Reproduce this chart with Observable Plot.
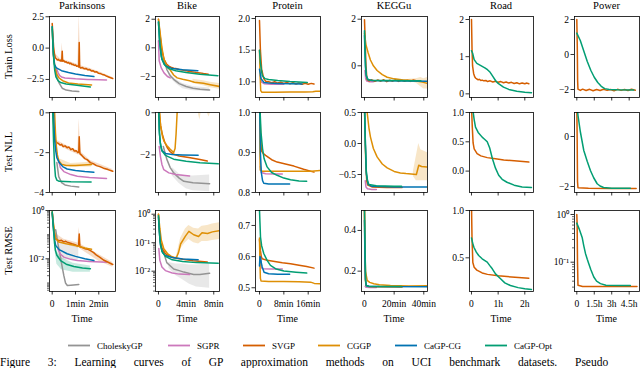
<!DOCTYPE html>
<html><head><meta charset="utf-8">
<script src="https://cdn.jsdelivr.net/npm/d3@7"></script>
<script src="https://cdn.jsdelivr.net/npm/@observablehq/plot@0.6"></script>
<style>
html,body{margin:0;padding:0;background:#fff;}
#root{position:relative;width:640px;height:368px;overflow:hidden;font-family:"Liberation Serif",serif;}
#root svg{position:absolute;overflow:visible;}
</style></head><body><div id="root"></div>
<script>
// ---------- categories / labels ----------
const methods = ["CholeskyGP","SGPR","SVGP","CGGP","CaGP-CG","CaGP-Opt"];
const methodColors = ["#949494","#cc78bc","#d55e00","#de8f05","#0173b2","#029e73"];
const datasets = ["Parkinsons","Bike","Protein","KEGGu","Road","Power"];
const metrics = ["Train Loss","Test NLL","Test RMSE"];
const timeLabel = "Time";
const caption = "Figure 3:  Learning curves of GP approximation methods on UCI benchmark datasets.  Pseudo";

// x axis (time) ticks per dataset
const xTicks = [[0,1,2],[0,4,8],[0,8,16],[0,20,40],[0,1,2],[0,1.5,3,4.5]];
const xTickLabels = [["0","1min","2min"],["0","4min","8min"],["0","8min","16min"],["0","20min","40min"],["0","1h","2h"],["0","1.5h","3h","4.5h"]];
const xDomains = [[-0.116,2.717],[-0.43,8.83],[-1.31,20.04],[-2.02,42.5],[-0.075,2.326],[-0.198,5.386]];

// y axis ticks per metric row
const yTicksTrain = [[2.5,0,-2.5],[2,0,-2],[2.0,1.5,1.0],[2,0],[2,1,0],[2,0,-2]];
const yLabelsTrain = [["2.5","0.0","−2.5"],["2","0","−2"],["2.0","1.5","1.0"],["2","0"],["2","1","0"],["2","0","−2"]];
const yDomainsTrain = [[-3.94,2.52],[-3.47,2.19],[0.752,2.032],[-1.36,2.116],[-0.098,2.081],[-2.457,2.171]];

const yTicksNLL = [[0,-2,-4],[0,-2],[1.0,0.9,0.8],[0.5,0,-0.5],[1.0,0.5,0],[0,-2]];
const yLabelsNLL = [["0","−2","−4"],["0","−2"],["1.0","0.9","0.8"],["0.5","0.0","−0.5"],["1.0","0.5","0.0"],["0","−2"]];
const yDomainsNLL = [[-4,0.015],[-3.78,0.01],[0.8,1.0],[-0.79,0.5],[-0.365,1.0],[-2.24,0.96]];

const yTicksRMSE = [[1,0.01],[1,0.1,0.01],[0.7,0.6,0.5],[0.4,0.2],[1.0,0.5],[1,0.1]];
const yLabelsRMSE = [["10⁰","10⁻²"],["10⁰","10⁻¹","10⁻²"],["0.7","0.6","0.5"],["0.4","0.2"],["1.0","0.5"],["10⁰","10⁻¹"]];
const yDomainsRMSE = [[0.000443,1],[0.00194,1.349],[0.488,0.748],[0.1,0.498],[0.144,1.0],[0.0243,1.213]];
const yTypesRMSE = ["log","log","linear","linear","linear","log"];

// ---------- series: [time, value] ----------
const train_Parkinsons = {
  "CholeskyGP": [[0.15,-1.5],[0.2,-2.3],[0.3,-2.8],[0.43,-3.2],[0.6,-3.35],[0.85,-3.42],[1.14,-3.47]],
  "SGPR": [[0.2,-1.7],[0.25,-1.95],[0.32,-2.2],[0.4,-2.3],[0.55,-2.38],[0.7,-2.4],[1.0,-2.45],[1.5,-2.5],[2.0,-2.53],[2.33,-2.55]],
  "SVGP": [[0,1.97],[0.03,1.0],[0.06,0.1],[0.1,-0.5],[0.14,-0.78],[0.18,-0.85],[0.22,-0.95],[0.26,-0.9],[0.3,-1.0],[0.34,-0.95],[0.38,-1.05],[0.41,-0.98],[0.43,-0.25],[0.45,-1.05],[0.5,-1.0],[0.55,-1.12],[0.6,-1.08],[0.65,-1.18],[0.7,-1.15],[0.75,-1.25],[0.8,-1.2],[0.85,-1.32],[0.9,-1.28],[0.95,-1.38],[1.0,-1.35],[1.05,-1.45],[1.1,-1.42],[1.14,-1.5],[1.16,0.45],[1.18,-1.5],[1.22,-1.58],[1.3,-1.55],[1.38,-1.65],[1.45,-1.62],[1.52,-1.72],[1.6,-1.7],[1.68,-1.82],[1.75,-1.8],[1.82,-1.9],[1.9,-1.88],[1.98,-2.0],[2.05,-2.02],[2.15,-2.1],[2.25,-2.15],[2.35,-2.25],[2.45,-2.32],[2.6,-2.43]],
  "CGGP": [[0,1.5],[0.05,-0.5],[0.12,-1.6],[0.2,-2.1],[0.3,-2.4],[0.45,-2.6],[0.7,-2.78],[1.1,-2.87],[1.4,-2.9],[1.69,-2.94]],
  "CaGP-CG": [[0,1.7],[0.05,-0.5],[0.1,-1.3],[0.15,-1.5],[0.2,-1.6],[0.4,-1.8],[0.7,-1.95],[1.0,-2.07],[1.4,-2.18],[1.79,-2.27]],
  "CaGP-Opt": [[0,1.7],[0.03,0.3],[0.07,-1.0],[0.11,-1.8],[0.16,-2.3],[0.25,-2.6],[0.36,-2.75],[0.6,-2.87],[1.06,-2.96],[1.64,-3.1]]
};
const trainBand_Parkinsons = {
  "SVGP": [[0,1.9,2.0],[0.1,-0.6,-0.4],[0.38,-1.1,-0.9],[0.43,-1.1,0.4],[0.48,-1.15,-0.9],[1.1,-1.55,-1.3],[1.16,-1.6,2.7],[1.22,-1.7,-1.4],[1.6,-1.85,-1.6],[2.1,-2.15,-1.95],[2.6,-2.5,-2.35]]
};
const train_Bike = {
  "CholeskyGP": [[0.8,-0.8],[1.2,-1.5],[1.7,-1.95],[2.2,-2.2],[3,-2.5],[4,-2.7],[5,-2.82],[6,-2.9],[7.4,-2.94]],
  "SGPR": [[0,0.5],[0.1,-0.9],[0.4,-1.4],[0.8,-1.75],[1.3,-2.0],[1.7,-2.1]],
  "SVGP": [[0,2.0],[0.2,1.0],[0.5,-0.2],[0.8,-0.8],[1.2,-1.15],[1.5,-1.28],[1.8,-1.35],[2.2,-1.42],[2.5,-1.45],[3.0,-1.52],[3.5,-1.55],[4.0,-1.6],[4.5,-1.65],[5.0,-1.68],[5.5,-1.72],[6.0,-1.75],[6.5,-1.8],[7.2,-1.85]],
  "CGGP": [[0,2.0],[0.2,1.2],[0.5,0.0],[0.8,-0.8],[1.2,-1.3],[1.7,-1.55],[2.2,-1.9],[2.7,-2.1],[3.5,-2.2],[4.5,-2.3],[5.2,-2.4],[6.5,-2.48],[7.5,-2.58],[8.84,-2.7]],
  "CaGP-CG": [[0,1.8],[0.2,0.2],[0.5,-0.8],[1.0,-1.25],[2,-1.45],[3.5,-1.53],[5.7,-1.6]],
  "CaGP-Opt": [[0,1.8],[0.15,0.5],[0.4,-0.6],[0.8,-1.15],[1.5,-1.45],[2.5,-1.6],[4,-1.72],[6,-1.85],[8.6,-1.95]]
};
const trainBand_Bike = {
  "CholeskyGP": [[1.5,-1.7,-2.0],[2.5,-2.2,-2.5],[3.5,-2.5,-2.85],[5,-2.7,-3.0],[7.4,-2.8,-3.05]],
  "CGGP": [[5,-2.2,-2.5],[6.5,-2.3,-2.65],[7.5,-2.4,-2.78],[8.84,-2.5,-2.9]]
};
const train_Protein = {
  "SGPR": [[0.3,1.1],[0.6,1.0],[1.5,0.97],[4,0.96],[8,0.96]],
  "SVGP": [[0,1.97],[0.3,1.5],[0.7,1.2],[1.4,1.05],[2,1.01],[3,1.0],[4,0.985],[5,1.0],[6,0.98],[7,0.995],[8,0.975],[9,0.99],[10,0.97],[11,0.985],[12,0.965],[13,0.98],[14,0.96],[15,0.975],[16,0.96],[17,0.975],[17.9,0.965]],
  "CGGP": [[0,1.5],[0.2,1.1],[0.4,0.86],[0.8,0.835],[5,0.835],[10,0.838],[15,0.84],[17.5,0.842],[18.5,0.85],[20.1,0.85]],
  "CaGP-CG": [[0,1.2],[0.5,1.05],[1.5,0.99],[3,0.98],[6,0.975],[10,0.97],[14,0.965]],
  "CaGP-Opt": [[0,1.5],[0.3,1.3],[0.9,1.1],[1.8,1.05],[3,1.035],[6,1.02],[10,1.005],[15.7,0.99]]
};
const train_KEGGu = {
  "SGPR": [[0.3,-0.2],[0.8,-0.55],[1.5,-0.65],[3,-0.68],[6,-0.68]],
  "SVGP": [[0,1.98],[0.5,1.0],[1,0.0],[1.5,-0.45],[1.8,-0.59],[3,-0.65],[5,-0.6],[7,-0.67],[9,-0.61],[11,-0.66],[13,-0.6],[15,-0.68],[17,-0.62],[19,-0.66],[21,-0.6],[23,-0.67],[25,-0.61],[27,-0.66],[29,-0.62],[31,-0.67],[33,-0.61],[35.5,-0.65]],
  "CGGP": [[0,1.4],[1,0.9],[2.5,0.55],[4,0.25],[6,0.0],[8.5,-0.2],[12,-0.38],[15.3,-0.49],[20,-0.56],[25,-0.6],[30,-0.62],[35,-0.65],[39,-0.7],[42.5,-0.75]],
  "CaGP-CG": [[0,1.3],[0.3,0.6],[0.7,-0.1],[1.3,-0.45],[2.5,-0.6],[5,-0.63],[15,-0.64],[30,-0.65],[42.5,-0.66]],
  "CaGP-Opt": [[0,1.5],[0.3,0.8],[0.7,0.0],[1.2,-0.4],[2,-0.58],[4,-0.62],[10,-0.63],[20,-0.63],[30,-0.64],[38,-0.64]]
};
const trainBand_KEGGu = {
  "CGGP": [[30,-0.58,-0.66],[35,-0.55,-0.75],[38,-0.5,-0.9],[40,-0.55,-1.0],[42.5,-0.5,-1.0]]
};
const train_Road = {
  "SVGP": [[0,2.0],[0.02,1.2],[0.04,0.75],[0.08,0.55],[0.12,0.46],[0.16,0.42],[0.2,0.4],[0.25,0.38],[0.3,0.39],[0.35,0.36],[0.4,0.37],[0.46,0.35],[0.55,0.36],[0.6,0.33],[0.7,0.35],[0.8,0.32],[0.9,0.34],[1.0,0.31],[1.1,0.33],[1.2,0.3],[1.3,0.32],[1.4,0.29],[1.5,0.31],[1.6,0.28],[1.7,0.3],[1.8,0.27],[1.9,0.29],[2.0,0.27],[2.08,0.29],[2.15,0.27]],
  "CaGP-Opt": [[0,1.16],[0.04,1.1],[0.1,0.92],[0.2,0.82],[0.35,0.76],[0.5,0.7],[0.6,0.65],[0.7,0.58],[0.8,0.47],[0.9,0.36],[1.0,0.28],[1.2,0.18],[1.4,0.12],[1.7,0.07],[2.0,0.045],[2.25,0.03]]
};
const train_Power = {
  "SVGP": [[0,2.0],[0.04,0.5],[0.07,-1.5],[0.1,-1.98],[0.3,-2.05],[0.5,-1.98],[0.8,-2.06],[1.1,-1.99],[1.4,-2.07],[1.7,-2.0],[2.0,-2.06],[2.3,-1.99],[2.6,-2.05],[2.9,-2.0],[3.2,-2.07],[3.5,-1.99],[3.8,-2.05],[4.1,-2.0],[4.4,-2.06],[4.7,-1.99],[5.03,-2.04]],
  "CaGP-Opt": [[0,1.22],[0.3,0.8],[0.6,0.2],[0.9,-0.4],[1.2,-0.9],[1.5,-1.3],[1.8,-1.6],[2.1,-1.82],[2.4,-1.95],[2.8,-2.0],[3.5,-2.02],[4.9,-2.03]]
};

const nll_Parkinsons = {
  "CholeskyGP": [[0.2,-2.5],[0.28,-3.2],[0.4,-3.5],[0.55,-3.62],[0.8,-3.68],[1.14,-3.72]],
  "SGPR": [[0.25,-2.3],[0.35,-2.75],[0.5,-2.95],[0.8,-3.1],[1.08,-3.18],[1.6,-3.25],[2.33,-3.3]],
  "SVGP": [[0.03,0.1],[0.08,-0.9],[0.14,-1.45],[0.2,-1.5],[0.28,-1.55],[0.34,-1.62],[0.4,-1.58],[0.47,-1.7],[0.55,-1.66],[0.64,-1.75],[0.72,-1.72],[0.8,-1.85],[0.88,-1.8],[0.95,-1.92],[1.03,-1.9],[1.1,-2.0],[1.14,-1.98],[1.16,-1.2],[1.19,-2.05],[1.28,-2.15],[1.4,-2.3],[1.5,-2.35],[1.64,-2.5],[1.76,-2.55],[1.9,-2.65],[2.05,-2.7],[2.2,-2.78],[2.4,-2.85],[2.6,-2.93]],
  "CGGP": [[0.1,0.1],[0.14,-1.0],[0.18,-1.7],[0.22,-2.1],[0.28,-2.4],[0.4,-2.58],[0.6,-2.64],[1.0,-2.65],[1.69,-2.6]],
  "CaGP-CG": [[0.05,0.1],[0.1,-1.3],[0.15,-1.9],[0.2,-2.25],[0.3,-2.5],[0.45,-2.7],[0.64,-2.82],[1.0,-2.9],[1.4,-2.95],[1.79,-2.98]],
  "CaGP-Opt": [[0.02,0.1],[0.06,-1.5],[0.1,-2.6],[0.14,-3.2],[0.2,-3.38],[0.3,-3.44],[0.8,-3.46],[1.67,-3.47]]
};
const nllBand_Parkinsons = {
  "SVGP": [[0.14,-1.55,-1.35],[0.64,-1.85,-1.65],[1.1,-2.1,-1.9],[1.16,-2.1,-0.3],[1.22,-2.15,-1.95],[1.64,-2.6,-2.4],[2.6,-3.0,-2.85]],
  "CGGP": [[0.3,-2.5,-2.3],[0.8,-2.75,-2.55],[1.69,-2.72,-2.48]]
};
const nll_Bike = {
  "CholeskyGP": [[0.7,-1.6],[1.2,-2.2],[1.7,-2.6],[2.2,-2.85],[3,-3.1],[3.67,-3.25],[5,-3.32],[7.4,-3.36]],
  "SGPR": [[0.1,-1.6],[0.3,-2.1],[0.5,-2.45],[0.77,-2.7],[1.5,-2.85],[2.5,-2.93],[4.5,-3.0]],
  "SVGP": [[0.1,0.1],[0.3,-0.6],[0.53,-1.0],[0.9,-1.4],[1.26,-1.65],[1.7,-1.85],[2.2,-1.97],[3,-2.05],[4.6,-2.13],[6,-2.22],[7.06,-2.29]],
  "CGGP": [[0.05,0.5],[0.3,-0.6],[0.6,-1.15],[0.8,-1.35],[1.2,-1.55],[1.7,-1.73],[2.2,-1.89],[2.4,-1.7],[2.55,-1.0],[2.7,0.0],[2.8,0.8],[4,1.5],[6,1.5],[8.8,1.5]],
  "CaGP-CG": [[0.05,0.1],[0.15,-1.0],[0.3,-1.55],[0.5,-1.8],[1.0,-1.93],[2,-1.98],[3.5,-2.0],[5.74,-2.02]],
  "CaGP-Opt": [[0.02,0.1],[0.1,-0.8],[0.25,-1.4],[0.5,-1.8],[1,-2.02],[2.2,-2.2],[4,-2.3],[6,-2.37],[8.65,-2.42]]
};
const nllBand_Bike = {
  "CholeskyGP": [[2,-2.6,-3.0],[3,-2.9,-3.35],[4,-3.0,-3.6],[5,-3.0,-3.7],[7.4,-2.95,-3.75]],
  "CGGP": [[5.8,1.5,-0.1],[6.0,1.5,-0.35],[6.2,1.5,0.05],[7.0,1.5,0.05],[7.3,1.5,-0.2],[7.6,1.5,0.05],[8.8,1.5,0.1]]
};
const nll_Protein = {
  "SGPR": [[0.3,0.865],[0.6,0.85],[2,0.847],[5,0.846],[7.5,0.846]],
  "SVGP": [[0.1,1.02],[0.3,0.96],[0.6,0.905],[1.2,0.898],[2,0.893],[4,0.882],[5.8,0.876],[8.5,0.871],[11.3,0.866],[14.5,0.858],[17.9,0.851]],
  "CGGP": [[0.05,1.05],[0.15,0.9],[0.25,0.856],[1,0.853],[10,0.853],[17,0.853],[20.1,0.855]],
  "CaGP-CG": [[0.05,1.02],[0.3,0.9],[0.6,0.85],[1,0.83],[1.4,0.823],[3,0.821],[6,0.821],[9.9,0.821]],
  "CaGP-Opt": [[0.1,1.02],[0.5,0.95],[1.0,0.91],[1.5,0.885],[2.5,0.864],[4,0.85],[5.8,0.843],[8,0.836],[10.2,0.832],[13,0.829],[15.5,0.828]]
};
const nll_KEGGu = {
  "SGPR": [[0.5,-0.6],[1,-0.7],[2,-0.73],[5,-0.74],[8,-0.74]],
  "SVGP": [[0,0.6],[0.5,0.0],[1,-0.4],[1.5,-0.6],[2.2,-0.67],[5,-0.7],[15,-0.71],[25.4,-0.71]],
  "CGGP": [[0.5,0.6],[1.8,0.5],[3,0.25],[4,0.107],[6,-0.08],[8.5,-0.216],[12,-0.33],[15.3,-0.393],[20,-0.45],[24.2,-0.474],[28,-0.485],[33.2,-0.495],[35,-0.5],[36.6,-0.35],[38.5,-0.37],[42.5,-0.38]],
  "CaGP-CG": [[0.05,0.6],[0.6,0.0],[1.3,-0.5],[2.5,-0.66],[5,-0.69],[20,-0.7],[42.5,-0.7]],
  "CaGP-Opt": [[0,0.6],[0.6,0.0],[1.2,-0.45],[2,-0.6],[3,-0.66],[8,-0.68],[20,-0.69],[25,-0.69]]
};
const nllBand_KEGGu = {
  "CGGP": [[33,-0.45,-0.53],[35,-0.2,-0.6],[36.6,0.0,-0.6],[38,-0.1,-0.6],[42.5,-0.15,-0.6]]
};
const nll_Road = {
  "SVGP": [[0,1.1],[0.03,0.75],[0.06,0.48],[0.1,0.38],[0.21,0.3],[0.35,0.26],[0.59,0.23],[0.9,0.21],[1.21,0.19],[1.6,0.175],[2.15,0.154]],
  "CaGP-Opt": [[0.05,1.05],[0.1,0.88],[0.15,0.75],[0.25,0.66],[0.4,0.58],[0.5,0.54],[0.59,0.5],[0.68,0.4],[0.78,0.22],[0.9,0.05],[1.02,-0.07],[1.15,-0.14],[1.33,-0.19],[1.6,-0.24],[1.9,-0.27],[2.25,-0.28]]
};
const nll_Power = {
  "SVGP": [[0,1.2],[0.03,0],[0.06,-1.8],[0.1,-2.05],[1,-2.07],[3,-2.08],[5.1,-2.08]],
  "CaGP-Opt": [[0,1.3],[0.1,0.85],[0.3,0.2],[0.6,-0.56],[0.9,-1.0],[1.17,-1.36],[1.45,-1.65],[1.75,-1.89],[2.0,-1.98],[2.3,-2.04],[3,-2.07],[4.6,-2.07]]
};

const rmse_Parkinsons = {
  "CholeskyGP": [[0.15,0.158],[0.25,0.0398],[0.35,0.0126],[0.43,0.0045],[0.5,0.002],[0.57,0.001],[0.65,0.00079],[0.8,0.00081],[1.14,0.00087]],
  "SGPR": [[0.25,0.0251],[0.35,0.0158],[0.5,0.0117],[0.8,0.0095],[1.08,0.0085],[1.6,0.0078],[2.33,0.0072]],
  "SVGP": [[0,0.851],[0.05,0.251],[0.1,0.1],[0.14,0.0676],[0.2,0.062],[0.3,0.0562],[0.4,0.058],[0.5,0.0501],[0.58,0.053],[0.64,0.049],[0.75,0.045],[0.85,0.0417],[0.95,0.039],[1.05,0.0355],[1.13,0.0331],[1.16,0.107],[1.19,0.0316],[1.3,0.029],[1.4,0.0263],[1.52,0.025],[1.64,0.0219],[1.78,0.018],[1.9,0.0141],[2.05,0.0115],[2.2,0.0089],[2.4,0.0072],[2.6,0.0058]],
  "CGGP": [[0,0.89],[0.05,0.316],[0.1,0.126],[0.15,0.0708],[0.28,0.0501],[0.6,0.0417],[1.0,0.0355],[1.4,0.0282],[1.69,0.0251]],
  "CaGP-CG": [[0,0.794],[0.05,0.2],[0.1,0.063],[0.15,0.0355],[0.3,0.024],[0.64,0.0162],[1.0,0.0126],[1.4,0.01],[1.79,0.0085]],
  "CaGP-Opt": [[0,0.89],[0.03,0.316],[0.07,0.107],[0.1,0.0447],[0.14,0.0219],[0.2,0.0141],[0.36,0.0085],[0.6,0.006],[0.93,0.0048],[1.3,0.0042],[1.64,0.0039]]
};
const rmseBand_Parkinsons = {
  "CholeskyGP": [[0.25,0.045,0.01],[0.5,0.04,0.009],[0.8,0.035,0.009],[1.14,0.03,0.009]],
  "SVGP": [[0.1,0.12,0.08],[0.5,0.065,0.04],[1.1,0.045,0.028],[1.16,0.2,0.03],[1.22,0.04,0.025],[2.0,0.015,0.008],[2.6,0.007,0.0045]],
  "CaGP-Opt": [[0.1,0.06,0.03],[0.2,0.02,0.006],[0.4,0.011,0.0035],[0.9,0.0065,0.0028],[1.64,0.005,0.0028]]
};
const rmse_Bike = {
  "CholeskyGP": [[0.7,0.0501],[1.2,0.02],[2.2,0.012],[3,0.0105],[3.67,0.0093],[4.5,0.0083],[5.1,0.0076],[6,0.0076],[7.4,0.0085]],
  "SGPR": [[0.05,0.063],[0.2,0.024],[0.5,0.0141],[1.0,0.0105],[2,0.0087],[3,0.0079],[4.5,0.0076]],
  "SVGP": [[0,1.0],[0.15,0.251],[0.3,0.112],[0.53,0.063],[1,0.0417],[1.6,0.0339],[2.2,0.0295],[3.5,0.0263],[5,0.0234],[7.06,0.0209]],
  "CGGP": [[0,1.0],[0.2,0.316],[0.4,0.126],[0.77,0.0617],[1.3,0.0417],[1.8,0.0339],[2.2,0.0309],[2.6,0.0302],[2.9,0.045],[3.2,0.09],[3.9,0.17],[4.4,0.25],[5.1,0.19],[5.8,0.166],[6.3,0.224],[7.1,0.21],[7.8,0.24],[8.84,0.263]],
  "CaGP-CG": [[0,0.794],[0.15,0.2],[0.3,0.0794],[0.6,0.0447],[1,0.0355],[2,0.0302],[3.5,0.0269],[5.74,0.0251]],
  "CaGP-Opt": [[0,0.89],[0.1,0.316],[0.25,0.1],[0.5,0.0501],[1,0.0331],[2,0.0251],[3.5,0.0219],[5.5,0.02],[8.65,0.0191]]
};
const rmseBand_Bike = {
  "CholeskyGP": [[1.5,0.02,0.0126],[2.5,0.0178,0.0071],[3.5,0.0178,0.005],[4.5,0.0166,0.0035],[5.5,0.0166,0.0028],[7.4,0.0178,0.0025]],
  "CGGP": [[2.6,0.028,0.033],[3.2,0.06,0.14],[3.9,0.1,0.3],[4.4,0.13,0.4],[5.1,0.1,0.32],[5.8,0.09,0.3],[6.3,0.11,0.38],[7.1,0.11,0.4],[7.8,0.12,0.45],[8.84,0.13,0.5]]
};
const rmse_Protein = {
  "SGPR": [[0.3,0.6],[0.6,0.565],[1,0.561],[4,0.56],[7.5,0.56]],
  "SVGP": [[0,0.655],[0.3,0.62],[0.6,0.6],[0.9,0.593],[2.5,0.588],[5,0.584],[7.5,0.58],[10.2,0.577],[13,0.572],[15.5,0.568],[17.9,0.563]],
  "CGGP": [[0,0.66],[0.15,0.58],[0.3,0.53],[0.5,0.522],[3,0.52],[8,0.52],[13,0.519],[16.8,0.518],[18,0.514],[20.1,0.513]],
  "CaGP-CG": [[0,0.57],[0.15,0.6],[0.33,0.598],[0.6,0.58],[0.9,0.567],[1.5,0.55],[3,0.545],[6,0.543],[9.9,0.543]],
  "CaGP-Opt": [[0,0.75],[0.15,0.71],[0.33,0.663],[0.7,0.635],[1.4,0.61],[2.5,0.588],[3.6,0.572],[5.5,0.56],[8,0.554],[12,0.55],[15.5,0.547]]
};
const rmse_KEGGu = {
  "SGPR": [[0.5,0.125],[1,0.121],[4,0.12],[8,0.12]],
  "SVGP": [[0,0.5],[0.3,0.25],[0.6,0.16],[1,0.13],[3,0.125],[10,0.123],[25.4,0.122]],
  "CGGP": [[0,0.5],[0.3,0.3],[0.7,0.2],[1.8,0.155],[3.5,0.145],[6.3,0.138],[10,0.133],[17.5,0.129],[30,0.127],[42.5,0.128]],
  "CaGP-CG": [[0,0.45],[0.3,0.25],[0.6,0.16],[1.2,0.13],[3,0.126],[10,0.124],[42.5,0.123]],
  "CaGP-Opt": [[0,0.5],[0.4,0.3],[0.8,0.15],[1.3,0.127],[3,0.125],[10,0.124],[25,0.124]]
};
const rmse_Road = {
  "SVGP": [[0,1.05],[0.02,0.7],[0.05,0.45],[0.1,0.4],[0.2,0.37],[0.4,0.34],[0.6,0.325],[1.0,0.31],[1.5,0.298],[2.15,0.285]],
  "CaGP-Opt": [[0,0.71],[0.05,0.65],[0.09,0.612],[0.18,0.56],[0.27,0.524],[0.4,0.49],[0.59,0.454],[0.68,0.42],[0.78,0.384],[0.9,0.33],[1.09,0.278],[1.25,0.235],[1.46,0.207],[1.75,0.185],[2.0,0.172],[2.25,0.165]]
};
const rmse_Power = {
  "SVGP": [[0,1.0],[0.03,0.6],[0.06,0.1],[0.1,0.033],[0.5,0.031],[2,0.031],[5.17,0.031]],
  "CaGP-Opt": [[0,0.66],[0.2,0.5],[0.46,0.33],[0.6,0.22],[0.75,0.151],[0.9,0.115],[1.03,0.093],[1.2,0.07],[1.46,0.049],[1.7,0.04],[2.03,0.0355],[2.5,0.033],[3.75,0.0324],[4.6,0.0323]]
};

const trainSeries = [train_Parkinsons, train_Bike, train_Protein, train_KEGGu, train_Road, train_Power];
const trainBands = [trainBand_Parkinsons, trainBand_Bike, null, trainBand_KEGGu, null, null];
const nllSeries = [nll_Parkinsons, nll_Bike, nll_Protein, nll_KEGGu, nll_Road, nll_Power];
const nllBands = [nllBand_Parkinsons, nllBand_Bike, null, nllBand_KEGGu, null, null];
const rmseSeries = [rmse_Parkinsons, rmse_Bike, rmse_Protein, rmse_KEGGu, rmse_Road, rmse_Power];
const rmseBands = [rmseBand_Parkinsons, rmseBand_Bike, null, null, null, null];

// ---------- layout ----------
const colX = [[49,115],[155,219],[255,320],[361,427],[469,533],[574,639]];
const rowY = [[16,97],[112,192],[210,291]];
const FONT = "Liberation Serif";
const colorOf = Object.fromEntries(methods.map((m,i)=>[m, methodColors[i]]));
const root = document.getElementById("root");

function minorTicks(dom, majors) {
  const out = [];
  for (let k = -5; k <= 1; k++) for (let m = 1; m <= 9; m++) {
    const v = m * Math.pow(10, k);
    if (v >= dom[0] && v <= dom[1] && !majors.some(t => Math.abs(t - v) / v < 1e-9)) out.push(v);
  }
  return out;
}

function drawPanel(r, c) {
  const series = [trainSeries, nllSeries, rmseSeries][r][c];
  const bands = [trainBands, nllBands, rmseBands][r][c];
  const yt = [yTicksTrain, yTicksNLL, yTicksRMSE][r][c];
  const ylab = [yLabelsTrain, yLabelsNLL, yLabelsRMSE][r][c];
  const ydom = [yDomainsTrain, yDomainsNLL, yDomainsRMSE][r][c];
  const ytype = r === 2 ? yTypesRMSE[c] : "linear";
  const [x0, x1] = colX[c], [y0, y1] = rowY[r];
  const ML = 34, MR = 1, MT = 1, MB = r === 2 ? 22 : 6;
  const marks = [];
  if (bands) for (const m of methods) if (bands[m]) {
    marks.push(Plot.areaY(bands[m], {x: d => d[0], y1: d => d[1], y2: d => d[2], fill: colorOf[m], fillOpacity: 0.22, clip: true}));
  }
  for (const m of methods) if (series[m]) {
    marks.push(Plot.line(series[m], {x: d => d[0], y: d => d[1], stroke: colorOf[m], strokeWidth: 1.5, clip: true}));
  }
  const xl = new Map(xTicks[c].map((v, i) => [v, xTickLabels[c][i]]));
  marks.push(Plot.axisX(xTicks[c], {tickSize: 3.5, tickPadding: 5, strokeWidth: 0.8, label: null,
    tickFormat: r === 2 ? (d => xl.get(d)) : (() => "")}));
  const yl = new Map(yt.map((v, i) => [v, ylab[i]]));
  marks.push(Plot.axisY(yt, {tickSize: 3.5, tickPadding: 2, strokeWidth: 0.8, label: null, tickFormat: d => yl.get(d)}));
  if (ytype === "log") {
    marks.push(Plot.axisY(minorTicks(ydom, yt), {tickSize: 2, strokeWidth: 0.6, label: null, tickFormat: () => ""}));
  }
  marks.push(Plot.frame({stroke: "#000", strokeWidth: 0.8}));
  const svg = Plot.plot({
    width: x1 - x0 + ML + MR, height: y1 - y0 + MT + MB,
    marginLeft: ML, marginRight: MR, marginTop: MT, marginBottom: MB,
    x: {domain: xDomains[c]},
    y: {type: ytype, domain: ydom},
    style: {background: "transparent", fontFamily: FONT, fontSize: "9.5px", color: "#000", overflow: "visible"},
    marks
  });
  svg.style.left = (x0 - ML) + "px";
  svg.style.top = (y0 - MT) + "px";
  root.appendChild(svg);
}

for (let r = 0; r < 3; r++) for (let c = 0; c < 6; c++) drawPanel(r, c);

// ---------- text overlay: titles, row labels, Time, legend, caption ----------
const ov = d3.create("svg").attr("width", 640).attr("height", 368)
  .style("left", "0px").style("top", "0px").attr("font-family", FONT);
datasets.forEach((name, c) => {
  const cx = (colX[c][0] + colX[c][1]) / 2;
  ov.append("text").attr("x", cx).attr("y", 9).attr("text-anchor", "middle").attr("font-size", 10.5).text(name);
  ov.append("text").attr("x", cx).attr("y", 322).attr("text-anchor", "middle").attr("font-size", 10).text(timeLabel);
});
metrics.forEach((name, r) => {
  const cy = (rowY[r][0] + rowY[r][1]) / 2;
  ov.append("text").attr("transform", `translate(12,${cy}) rotate(-90)`).attr("text-anchor", "middle")
    .attr("font-size", 10.5).text(name);
});
const legendX = [68, 168, 243, 318, 395, 485];
methods.forEach((m, i) => {
  const lx = legendX[i];
  ov.append("line").attr("x1", lx).attr("x2", lx + 22).attr("y1", 345.5).attr("y2", 345.5)
    .attr("stroke", colorOf[m]).attr("stroke-width", 1.8);
  ov.append("text").attr("x", lx + 29).attr("y", 349).attr("font-size", 9).text(m);
});
const cap = ov.append("text").attr("x", 0).attr("y", 366).attr("font-size", 11.5).text(caption);
root.appendChild(ov.node());
// spread the caption's words over the full line, as in the justified original
const capLen = cap.node().getComputedTextLength();
const nSpaces = (caption.match(/ /g) || []).length;
if (capLen < 638 && nSpaces) cap.attr("word-spacing", ((638 - capLen) / nSpaces).toFixed(2));
</script></body></html>
